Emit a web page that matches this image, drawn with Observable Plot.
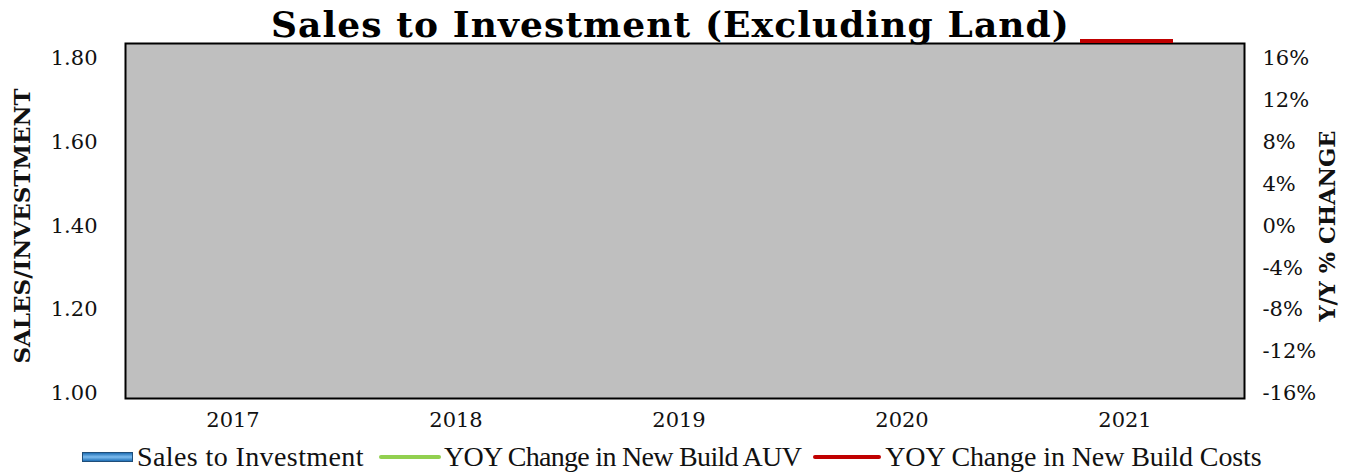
<!DOCTYPE html>
<html>
<head>
<meta charset="utf-8">
<script src="https://cdn.jsdelivr.net/npm/d3@7"></script>
<script src="https://cdn.jsdelivr.net/npm/@observablehq/plot@0.6"></script>
<style>
  body { margin: 0; background: #fff; width: 1353px; height: 474px; overflow: hidden; position: relative; }
  #title { position: relative; height: 40px; z-index: 2; }
  #title .t { position: absolute; left: 271px; top: 6px; font: bold 36px "DejaVu Serif", serif; letter-spacing: 1.1px; line-height: 1; white-space: nowrap; color: #000; }
  #title .r { position: absolute; left: 1080px; top: 39px; width: 93px; height: 4px; background: #c00000; }
  #chart { position: relative; z-index: 1; }
  #legend { position: absolute; left: 0; top: 443px; height: 28px; display: flex; align-items: center;
            font: 28px "Liberation Serif", serif; color: #111; white-space: nowrap; }
  #legend .sw { width: 51px; height: 10px; border: 1px solid #1f4e79; box-sizing: border-box;
                background: linear-gradient(to bottom, #1f6fb5, #7dbcef 50%, #1f6fb5); }
  #legend .ln { height: 4px; border-radius: 2px; }
</style>
</head>
<body>
<div id="title"><span class="t">Sales to Investment (Excluding Land)</span><span class="r"></span></div>
<div id="chart"></div>
<div id="legend"></div>
<script>
// ---- data ----
const years = ["2017", "2018", "2019", "2020", "2021"];
const salesToInvestment = [null, null, null, null, null];
const yoyNewBuildAUV = [null, null, null, null, null];
const yoyNewBuildCosts = [null, null, null, null, null];
const leftTicks = [1.00, 1.20, 1.40, 1.60, 1.80];
const rightTicks = [-0.16, -0.12, -0.08, -0.04, 0, 0.04, 0.08, 0.12, 0.16];
const seriesNames = ["Sales to Investment", "YOY Change in New Build AUV", "YOY Change in New Build Costs"];
const seriesColors = ["#2e75b6", "#92d050", "#c00000"];

const rows = years.map((year, i) => ({
  year,
  sales: salesToInvestment[i],
  auv: yoyNewBuildAUV[i],
  costs: yoyNewBuildCosts[i]
}));

// right (percent) axis mapped onto the left scale
const pctToLeft = d3.scaleLinear().domain([-0.16, 0.16]).range([1.0, 1.8]);

const chart = Plot.plot({
  width: 1353,
  height: 400,
  marginLeft: 125,
  marginRight: 109,
  marginTop: 18,
  marginBottom: 47,
  style: { fontFamily: "DejaVu Serif, serif", fontSize: "21px", color: "#111", background: "transparent" },
  x: { type: "band", domain: years, padding: 0 },
  y: { domain: [1.0, 1.8] },
  marks: [
    Plot.frame({ fill: "#bfbfbf", insetTop: -15, insetBottom: -5 }),
    Plot.barY(rows, { x: "year", y1: 1.0, y2: "sales", fill: seriesColors[0], filter: d => d.sales != null, inset: 40 }),
    Plot.line(rows.filter(d => d.auv != null), { x: "year", y: d => pctToLeft(d.auv), stroke: seriesColors[1], strokeWidth: 4 }),
    Plot.line(rows.filter(d => d.costs != null), { x: "year", y: d => pctToLeft(d.costs), stroke: seriesColors[2], strokeWidth: 4 }),
    Plot.frame({ stroke: "#000", strokeWidth: 2, insetTop: -15, insetBottom: -5 }),
    Plot.axisY(leftTicks, { anchor: "left", tickSize: 0, tickPadding: 28, tickFormat: d3.format(".2f"), label: null }),
    Plot.axisY(rightTicks.map(p => pctToLeft(p)), {
      anchor: "right", tickSize: 0, tickPadding: 18, label: null,
      tickFormat: d => Math.round(pctToLeft.invert(d) * 100) + "%"
    }),
    Plot.axisX({ tickSize: 0, tickPadding: 19, label: null, dx: -6 }),
    Plot.text(["SALES/INVESTMENT"], { frameAnchor: "left", textAnchor: "middle", rotate: -90, dx: -103, fontWeight: "bold", fontSize: 23, fill: "#111" }),
    Plot.text(["Y/Y % CHANGE"], { frameAnchor: "right", textAnchor: "middle", rotate: -90, dx: 83, fontWeight: "bold", fontSize: 22.5, fill: "#111" })
  ]
});
document.getElementById("chart").appendChild(chart);

// ---- legend ----
const legend = document.getElementById("legend");
const gaps = [[82, 4], [15, 3], [12, 4]];
const widths = [51, 62, 68];
const spacing = ["0.4px", "-0.7px", "-0.1px"];
seriesNames.forEach((name, i) => {
  const sw = document.createElement("div");
  if (i === 0) {
    sw.className = "sw";
  } else {
    sw.className = "ln";
    sw.style.width = widths[i] + "px";
    sw.style.background = seriesColors[i];
  }
  sw.style.marginLeft = gaps[i][0] + "px";
  legend.appendChild(sw);
  const t = document.createElement("span");
  t.textContent = name;
  t.style.marginLeft = gaps[i][1] + "px";
  t.style.letterSpacing = spacing[i];
  legend.appendChild(t);
});
</script>
</body>
</html>
